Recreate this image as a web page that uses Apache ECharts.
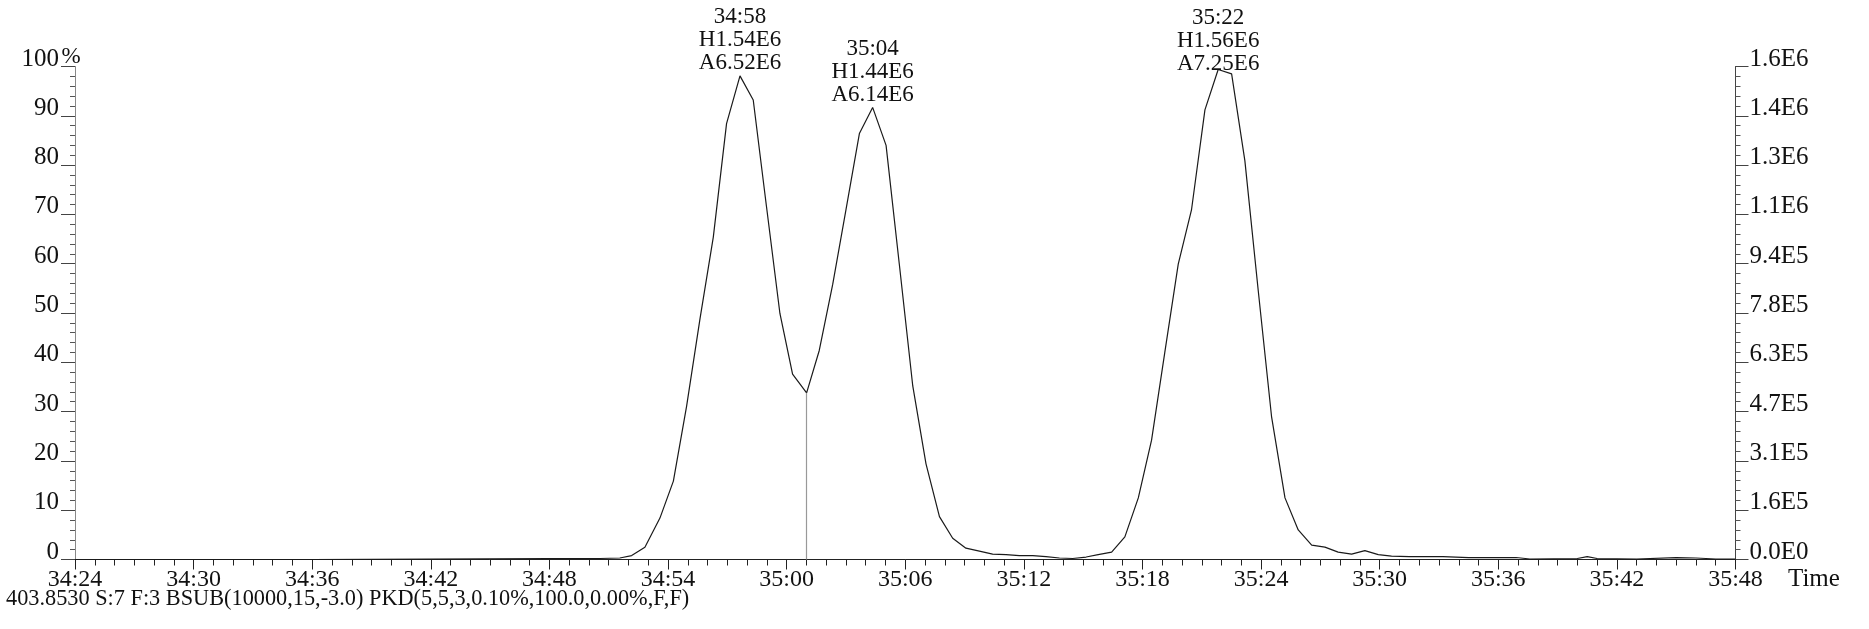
<!DOCTYPE html>
<html>
<head>
<meta charset="utf-8">
<script src="https://cdn.jsdelivr.net/npm/echarts@6/dist/echarts.min.js"></script>
<style>
html,body{margin:0;padding:0;background:#fff;}
#chart{width:1869px;height:629px;}
</style>
</head>
<body>
<div id="chart"></div>
<script>
// Retention time in seconds (34:24 = 2064 s) and relative intensity (%)
const times = [
  2064, 2070, 2076, 2082, 2088, 2090.56, 2091.56, 2092.16, 2092.83, 2093.59,
  2094.27, 2094.94, 2095.62, 2096.29, 2096.96, 2097.64, 2098.31, 2098.98, 2099.66, 2100.30,
  2101.01, 2101.65, 2102.33, 2103.00, 2103.68, 2104.35, 2105.03, 2105.70, 2106.38, 2107.05,
  2107.73, 2108.40, 2109.07, 2109.75, 2110.42, 2111.10, 2111.77, 2112.45, 2113.12, 2113.80,
  2114.47, 2115.15, 2115.76, 2116.44, 2117.11, 2117.79, 2118.46, 2119.13, 2119.81, 2120.48,
  2121.16, 2121.83, 2122.51, 2123.18, 2123.86, 2124.53, 2125.21, 2125.88, 2126.56, 2127.23,
  2127.90, 2128.58, 2129.25, 2129.93, 2130.60, 2131.5, 2133.2, 2134.5, 2136.9, 2137.6,
  2140.0, 2140.5, 2141.0, 2143.0, 2145.0, 2146.0, 2147.0, 2148.0
];
const intensity = [
  0, 0, 0, 0.1, 0.2, 0.2, 0.3, 0.8, 2.5, 8.4,
  15.9, 31.1, 48.9, 65.4, 88.4, 98.1, 93.2, 71.6, 49.9, 37.6,
  33.8, 42.4, 55.8, 70.9, 86.4, 91.7, 84.0, 59.9, 35.2, 19.4,
  8.7, 4.3, 2.3, 1.7, 1.1, 1.0, 0.8, 0.8, 0.6, 0.3,
  0.2, 0.5, 1.0, 1.5, 4.6, 12.5, 24.2, 42.0, 59.9, 70.9,
  91.2, 99.4, 98.5, 80.9, 54.4, 29.0, 12.5, 6.0, 2.9, 2.5,
  1.5, 1.1, 1.8, 1.0, 0.7, 0.6, 0.6, 0.4, 0.4, 0.1,
  0.2, 0.6, 0.2, 0.1, 0.4, 0.3, 0.1, 0.1
];
// Peak annotations (index of apex in the arrays above)
const peakIndex = [15, 25, 51];
const peakTime = ['34:58', '35:04', '35:22'];
const peakHeight = ['H1.54E6', 'H1.44E6', 'H1.56E6'];
const peakArea = ['A6.52E6', 'A6.14E6', 'A7.25E6'];
// Valley (peak split) drop line
const valleyIndex = 20;
// Right-hand axis labels (absolute intensity)
const rightLabels = ['0.0E0', '1.6E5', '3.1E5', '4.7E5', '6.3E5', '7.8E5', '9.4E5', '1.1E6', '1.3E6', '1.4E6', '1.6E6'];
const xAxisTitle = 'Time';
const footer = '403.8530 S:7 F:3 BSUB(10000,15,-3.0) PKD(5,5,3,0.10%,100.0,0.00%,F,F)';

const FONT = '"Liberation Serif", "DejaVu Serif", serif';
const data = times.map((t, i) => [t, intensity[i]]);
const fmtTime = v => {
  const m = Math.floor(v / 60), s = Math.round(v - m * 60);
  return m + ':' + (s < 10 ? '0' : '') + s;
};
const labelDistance = [1, 1, -6];

const chart = echarts.init(document.getElementById('chart'), null, {renderer: 'canvas'});
chart.setOption({
  animation: false,
  backgroundColor: '#fff',
  title: {
    text: footer, left: 6, top: 588, padding: 0,
    textStyle: {fontFamily: FONT, fontSize: 22.3, fontWeight: 'normal', color: '#111', lineHeight: 22}
  },
  graphic: [{
    type: 'text', x: 71, y: 68,
    style: {text: '%', font: '23px ' + FONT, fill: '#111', align: 'center', verticalAlign: 'bottom',
            textAlign: 'center', textVerticalAlign: 'bottom'}
  }, {
    type: 'text', x: 1788, y: 567,
    style: {text: xAxisTitle, font: '25px ' + FONT, fill: '#111', align: 'left', verticalAlign: 'top',
            textAlign: 'left', textVerticalAlign: 'top', lineHeight: 25}
  }],
  grid: {left: 75, right: 133.5, top: 66.5, bottom: 69.5, containLabel: false},
  xAxis: {
    type: 'value', min: 2064, max: 2148, interval: 6,
    axisLine: {onZero: false, lineStyle: {color: '#222', width: 1}},
    axisTick: {show: true, length: 10, lineStyle: {color: '#222'}},
    minorTick: {show: true, splitNumber: 6, length: 6, lineStyle: {color: '#222'}},
    splitLine: {show: false},
    axisLabel: {formatter: fmtTime, fontFamily: FONT, fontSize: 24, color: '#111', margin: 8, lineHeight: 24,
                showMinLabel: true, showMaxLabel: true}
  },
  yAxis: [{
    type: 'value', min: 0, max: 100, interval: 10, position: 'left',
    axisLine: {show: true, lineStyle: {color: '#888', width: 1}},
    axisTick: {show: true, length: 14, lineStyle: {color: '#444'}},
    minorTick: {show: true, splitNumber: 5, length: 5, lineStyle: {color: '#555'}},
    splitLine: {show: false},
    axisLabel: {fontFamily: FONT, fontSize: 25, color: '#111', margin: 16, verticalAlign: 'bottom', lineHeight: 15}
  }, {
    type: 'value', min: 0, max: 100, interval: 10, position: 'right',
    axisLine: {show: true, lineStyle: {color: '#444', width: 1}},
    axisTick: {show: true, length: 13, lineStyle: {color: '#444'}},
    minorTick: {show: true, splitNumber: 5, length: 5, lineStyle: {color: '#555'}},
    splitLine: {show: false},
    axisLabel: {fontFamily: FONT, fontSize: 25, color: '#111', margin: 14, verticalAlign: 'bottom', lineHeight: 15,
                formatter: v => rightLabels[Math.round(v / 10)]}
  }],
  series: [{
    type: 'line', data: data, yAxisIndex: 0,
    showSymbol: false, symbol: 'none', smooth: false,
    lineStyle: {color: '#1a1a1a', width: 1.2},
    markPoint: {
      symbol: 'circle', symbolSize: 0, silent: true,
      label: {show: true, position: 'top', fontFamily: FONT, fontSize: 23, lineHeight: 23, color: '#111',
              formatter: p => peakTime[p.dataIndex] + '\n' + peakHeight[p.dataIndex] + '\n' + peakArea[p.dataIndex]},
      data: peakIndex.map((k, i) => ({coord: data[k], label: {distance: labelDistance[i]}}))
    },
    markLine: {
      symbol: 'none', silent: true, label: {show: false},
      lineStyle: {color: '#999', width: 1.2, type: 'solid'},
      data: [[{coord: [times[valleyIndex], 0]}, {coord: data[valleyIndex]}]]
    }
  }]
});
</script>
</body>
</html>
